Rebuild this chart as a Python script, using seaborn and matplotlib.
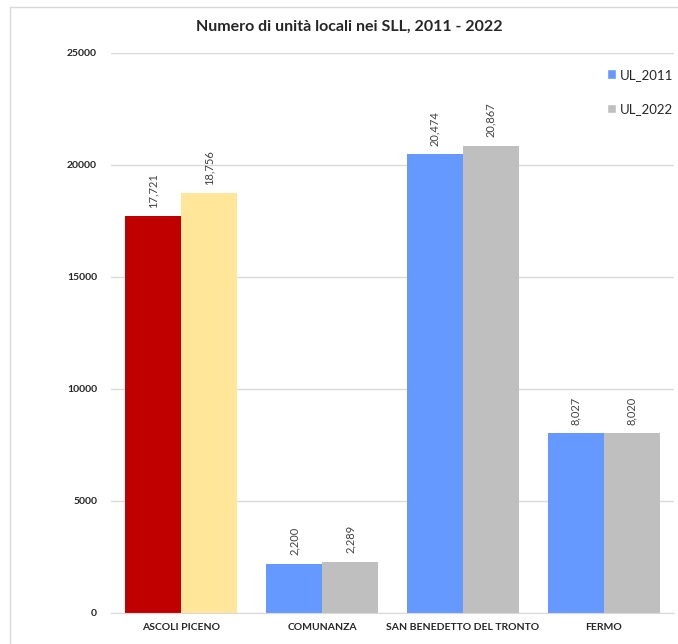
import matplotlib
matplotlib.use("Agg")
import matplotlib.pyplot as plt
import seaborn as sns
import pandas as pd
from matplotlib.patches import Rectangle

# data
areas = ['ASCOLI PICENO', 'COMUNANZA', 'SAN BENEDETTO DEL TRONTO', 'FERMO']
ul_2011 = [17721, 2200, 20474, 8027]
ul_2022 = [18756, 2289, 20867, 8020]
series = ['UL_2011', 'UL_2022']
y_ticks = [0, 5000, 10000, 15000, 20000, 25000]

blue = '#6699FF'
grey = '#BFBFBF'
# first group highlighted in the original
first_colors = ['#C00000', '#FFE699']

df = pd.DataFrame({
    'area': areas * 2,
    'serie': [series[0]] * len(areas) + [series[1]] * len(areas),
    'valore': ul_2011 + ul_2022,
})

sns.set_style('white')
plt.rcParams['font.family'] = ['Lato', 'DejaVu Sans']

fig = plt.figure(figsize=(6.78, 6.44), dpi=100)
ax = fig.add_axes([111 / 678, 1 - 613 / 644, (674 - 111) / 678, (613 - 53) / 644])

sns.barplot(data=df, x='area', y='valore', hue='serie', order=areas,
            hue_order=series, palette=[blue, grey], width=0.795,
            saturation=1, ax=ax, zorder=2)

# recolor the first group (red / yellow)
for i, cont in enumerate(ax.containers):
    cont.patches[0].set_facecolor(first_colors[i])
    for p in cont.patches:
        p.set_edgecolor('none')
    ax.bar_label(cont, labels=[f'{v:,.0f}' for v in cont.datavalues],
                 rotation=90, padding=6, fontsize=8, color='#404040')

ax.set_ylim(0, 25000)
ax.set_xlim(-0.5, 3.5)
ax.set_yticks(y_ticks)
ax.set_yticklabels([str(t) for t in y_ticks], fontsize=7.5, fontweight='bold')
ax.tick_params(axis='y', length=0, pad=10)
ax.tick_params(axis='x', length=0, pad=7, labelsize=7.5)
for lab in ax.get_xticklabels():
    lab.set_fontweight('bold')
ax.yaxis.grid(True, color='#D9D9D9', linewidth=1)
ax.set_axisbelow(True)
for s in ['top', 'right', 'left']:
    ax.spines[s].set_visible(False)
ax.spines['bottom'].set_color('#D9D9D9')
ax.set_xlabel('')
ax.set_ylabel('')

leg = ax.legend(loc='upper left', bbox_to_anchor=(600 / 678, 1 - 62 / 644),
                bbox_transform=fig.transFigure, frameon=False, fontsize=9.5,
                handlelength=0.7, handleheight=0.7, handletextpad=0.3,
                labelspacing=1.7, borderpad=0)

fig.text(0.5 + 10 / 678, 1 - 27 / 644, 'Numero di unità locali nei SLL, 2011 - 2022',
         ha='center', va='center', fontsize=11.5, fontweight='bold')

# light outer frame like the original screenshot
fig.patches.append(Rectangle((10 / 678, -0.1), 1.2, 1 - 7 / 644 + 0.1,
                             transform=fig.transFigure, fill=False,
                             edgecolor='#D9D9D9', linewidth=1))

fig.savefig('out.png', dpi=100)
